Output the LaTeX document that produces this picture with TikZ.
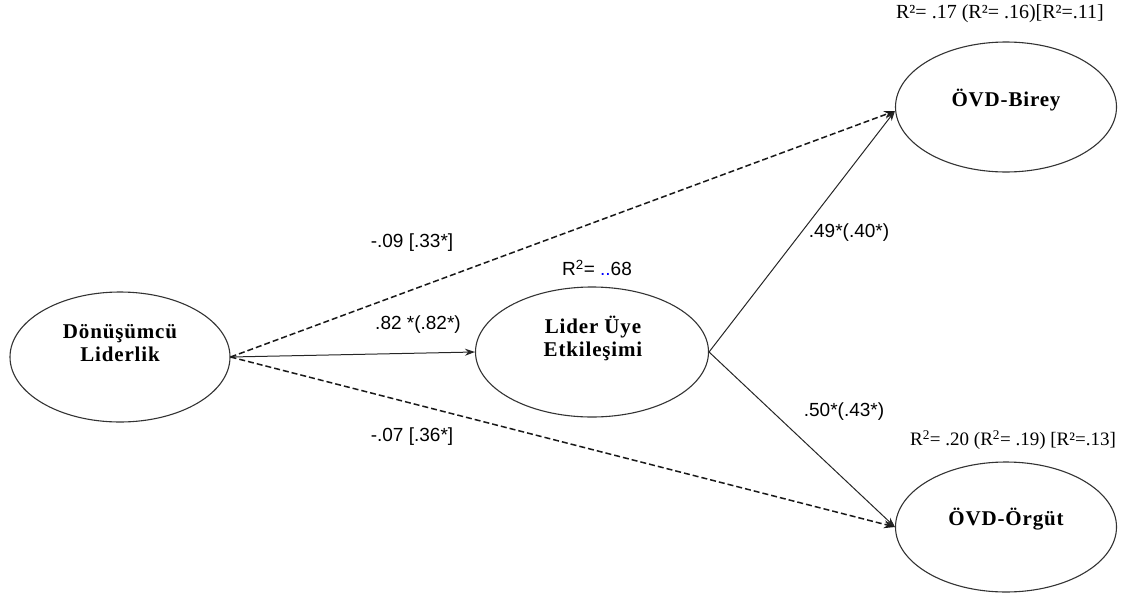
\documentclass[tikz,border=0pt]{standalone}
\usepackage{fontspec}
\setmainfont{Liberation Serif}
\newfontfamily\lsans{Liberation Sans}
\newfontfamily\lserifsp[LetterSpace=4]{Liberation Serif}
\usetikzlibrary{shapes.geometric,arrows.meta}
\begin{document}
\begin{tikzpicture}[x=1pt,y=-1pt,
  latent/.style={ellipse,draw=black!80,line width=1.1pt,inner sep=0pt,minimum height=130pt},
  lattext/.style={font=\lserifsp\fontsize{21}{23}\selectfont\bfseries,align=center,inner sep=0pt},
  pathlbl/.style={font=\fontsize{19}{22}\selectfont\lsans,inner sep=0pt},
  rlbl/.style={font=\fontsize{20}{22}\selectfont,inner sep=0pt},
  solidarrow/.style={draw=black!85,line width=1pt,-{Stealth[length=10pt,width=7pt]}},
  dasharrow/.style={draw=black!90,line width=1.5pt,dash pattern=on 6pt off 3pt,-{Stealth[length=11pt,width=8pt]}}]
\useasboundingbox (0,0) rectangle (1137,597);
% latent variables
\node[latent,minimum width=220pt] (dl) at (120,357) {};
\node[lattext] (dlt) at (120,343) {Dönüşümcü\\Liderlik};
\node[latent,minimum width=233pt] (lu) at (592,352) {};
\node[lattext] (lut) at (593,338) {Lider Üye\\Etkileşimi};
\node[latent,minimum width=221pt] (ob) at (1006,107) {};
\node[lattext] (obt) at (1006,100) {ÖVD-Birey};
\node[latent,minimum width=221pt] (oo) at (1006,527) {};
\node[lattext] (oot) at (1006,519) {ÖVD-Örgüt};
% paths
\draw[solidarrow] (dl.east) -- (lu.west);
\draw[dasharrow] (dl.east) -- ([yshift=-4pt]ob.west);
\draw[dasharrow] (dl.east) -- (oo.west);
\draw[solidarrow] (lu.east) -- ([yshift=-4pt]ob.west);
\draw[solidarrow] (lu.east) -- (oo.west);
% labels
\node[pathlbl] (l1) at (412,243) {-.09 [.33*]};
\node[pathlbl] (l2) at (418,325) {.82 *(.82*)};
\node[pathlbl] (l3) at (412,437) {-.07 [.36*]};
\node[pathlbl] (l4) at (849,233) {.49*(.40*)};
\node[pathlbl] (l5) at (844,412) {.50*(.43*)};
\node[pathlbl] (r1) at (597,268) {R\textsuperscript{2}= {\color{blue}..}68};
\node[rlbl] (r2) at (1000,14) {R²= .17 (R²= .16)[R²=.11]};
\node[rlbl,font=\fontsize{19}{22}\selectfont] (r3) at (1013,440) {R\textsuperscript{2}= .20 (R\textsuperscript{2}= .19) [R²=.13]};
\end{tikzpicture}
\end{document}
